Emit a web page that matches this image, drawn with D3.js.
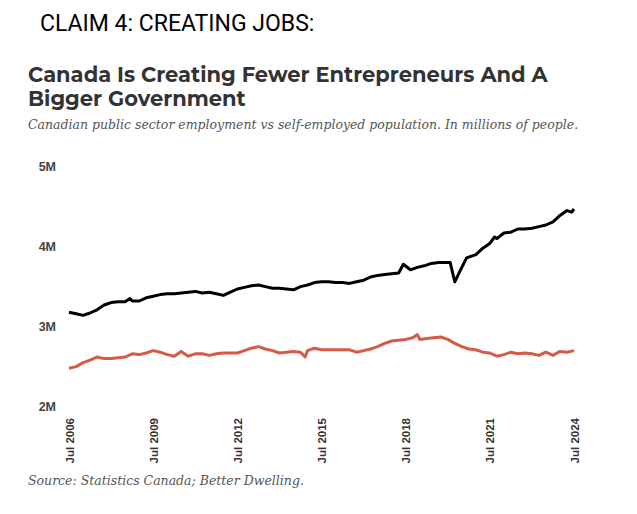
<!DOCTYPE html>
<html>
<head>
<meta charset="utf-8">
<script src="https://cdn.jsdelivr.net/npm/d3@7"></script>
<style>
  body { margin: 0; background: #fff; }
  svg { display: block; }
  .tick text { font-family: "Liberation Sans", Arial, sans-serif; font-weight: bold; }
</style>
</head>
<body>
<svg id="chart"></svg>
<script>
// Quarterly readings (plus a few extra months where the lines spike)
const publicDates = [
  "2006-07","2006-10","2007-01","2007-04","2007-07","2007-10","2008-01","2008-04","2008-07","2008-09",
  "2008-10","2009-01","2009-04","2009-07","2009-10","2010-01","2010-04","2010-07","2010-10","2011-01",
  "2011-04","2011-07","2011-10","2012-01","2012-04","2012-07","2012-10","2013-01","2013-04","2013-07",
  "2013-10","2014-01","2014-04","2014-07","2014-10","2015-01","2015-04","2015-07","2015-10","2016-01",
  "2016-04","2016-07","2016-10","2017-01","2017-04","2017-07","2017-10","2018-01","2018-04","2018-06",
  "2018-09","2018-12","2019-03","2019-06","2019-09","2019-12","2020-02","2020-04","2020-06","2020-09",
  "2021-01","2021-04","2021-07","2021-09","2021-10","2022-01","2022-04","2022-07","2022-10","2023-01",
  "2023-04","2023-07","2023-10","2024-01","2024-04","2024-06","2024-07"
];
const publicValues = [
  3.16,3.14,3.12,3.15,3.19,3.25,3.28,3.29,3.29,3.33,
  3.30,3.30,3.34,3.36,3.38,3.39,3.39,3.40,3.41,3.42,
  3.40,3.41,3.39,3.37,3.41,3.45,3.47,3.49,3.50,3.48,
  3.46,3.46,3.45,3.44,3.48,3.50,3.53,3.54,3.54,3.53,
  3.53,3.52,3.54,3.56,3.60,3.62,3.63,3.64,3.65,3.76,
  3.69,3.72,3.74,3.77,3.78,3.78,3.78,3.54,3.66,3.84,
  3.88,3.96,4.02,4.10,4.08,4.15,4.16,4.20,4.20,4.21,
  4.23,4.25,4.29,4.37,4.43,4.41,4.45
];

const selfDates = [
  "2006-07","2006-10","2007-01","2007-04","2007-07","2007-10","2008-01","2008-04","2008-07","2008-10",
  "2009-01","2009-04","2009-07","2009-10","2010-01","2010-04","2010-07","2010-10","2011-01","2011-04",
  "2011-07","2011-10","2012-01","2012-04","2012-07","2012-10","2013-01","2013-04","2013-07","2013-10",
  "2014-01","2014-04","2014-07","2014-10","2014-12","2015-01","2015-04","2015-07","2015-10","2016-01",
  "2016-04","2016-07","2016-10","2017-01","2017-04","2017-07","2017-10","2018-01","2018-04","2018-07",
  "2018-10","2018-12","2019-01","2019-04","2019-07","2019-10","2020-01","2020-04","2020-07","2020-10",
  "2021-01","2021-04","2021-07","2021-10","2022-01","2022-04","2022-07","2022-10","2023-01","2023-04",
  "2023-07","2023-10","2024-01","2024-04","2024-07"
];
const selfValues = [
  2.46,2.48,2.53,2.56,2.60,2.58,2.58,2.59,2.60,2.64,
  2.63,2.65,2.68,2.66,2.63,2.61,2.67,2.61,2.64,2.64,
  2.62,2.64,2.65,2.65,2.65,2.68,2.71,2.73,2.70,2.68,
  2.65,2.66,2.67,2.66,2.60,2.68,2.71,2.69,2.69,2.69,
  2.69,2.69,2.66,2.68,2.70,2.73,2.77,2.80,2.81,2.82,
  2.84,2.88,2.82,2.83,2.84,2.85,2.82,2.77,2.73,2.70,
  2.69,2.66,2.65,2.61,2.63,2.66,2.64,2.65,2.64,2.62,
  2.66,2.62,2.67,2.66,2.68
];

const yTicks = [2, 3, 4, 5];
const xTickDates = ["2006-07","2009-07","2012-07","2015-07","2018-07","2021-07","2024-07"];

const W = 637, H = 514;
const parse = d3.timeParse("%Y-%m");
const svg = d3.select("#chart").attr("width", W).attr("height", H);

const x = d3.scaleTime()
  .domain([parse("2006-07"), parse("2024-07")])
  .range([69, 574]);
const y = d3.scaleLinear().domain([2, 5]).range([405, 165]);

// header texts
svg.append("text")
  .attr("x", 40).attr("y", 31)
  .style("font-family", "Roboto, 'Liberation Sans', sans-serif")
  .style("font-size", "23px")
  .attr("fill", "#000")
  .text("CLAIM 4: CREATING JOBS:");

const title = svg.append("text")
  .style("font-family", "Montserrat, 'Open Sans', sans-serif")
  .style("font-weight", "bold")
  .style("font-size", "21px")
  .attr("fill", "#333");
title.append("tspan").attr("x", 28).attr("y", 82).text("Canada Is Creating Fewer Entrepreneurs And A");
title.append("tspan").attr("x", 28).attr("y", 106).text("Bigger Government");

svg.append("text")
  .attr("x", 28).attr("y", 129)
  .style("font-family", "'DejaVu Serif', serif")
  .style("font-style", "italic")
  .style("font-size", "12.5px")
  .attr("fill", "#555")
  .text("Canadian public sector employment vs self-employed population. In millions of people.");

svg.append("text")
  .attr("x", 28).attr("y", 485)
  .style("font-family", "'DejaVu Serif', serif")
  .style("font-style", "italic")
  .style("font-size", "12.5px")
  .attr("fill", "#555")
  .text("Source: Statistics Canada; Better Dwelling.");

// axes
const yAxis = d3.axisLeft(y)
  .tickValues(yTicks)
  .tickSize(0)
  .tickPadding(0)
  .tickFormat(d => d + "M");

svg.append("g")
  .attr("transform", "translate(56,1)")
  .call(yAxis)
  .call(g => g.select(".domain").remove())
  .selectAll("text")
  .attr("fill", "#444")
  .style("font-size", "12.5px");

const xAxis = d3.axisBottom(x)
  .tickValues(xTickDates.map(parse))
  .tickSize(0)
  .tickFormat(d3.timeFormat("Jul %Y"));

svg.append("g")
  .attr("transform", "translate(0,418)")
  .call(xAxis)
  .call(g => g.select(".domain").remove())
  .selectAll("text")
  .attr("fill", "#333")
  .style("font-size", "11.5px")
  .attr("text-anchor", "end")
  .attr("transform", "rotate(-90)")
  .attr("x", 0)
  .attr("y", 0)
  .attr("dx", 0)
  .attr("dy", "0.35em");

// lines
const line = d3.line()
  .x(d => x(parse(d[0])))
  .y(d => y(d[1]));

svg.append("path")
  .datum(selfDates.map((d, i) => [d, selfValues[i]]))
  .attr("fill", "none")
  .attr("stroke", "#d65a45")
  .attr("stroke-width", 3)
  .attr("stroke-linejoin", "round")
  .attr("d", line);

svg.append("path")
  .datum(publicDates.map((d, i) => [d, publicValues[i]]))
  .attr("fill", "none")
  .attr("stroke", "#000")
  .attr("stroke-width", 3)
  .attr("stroke-linejoin", "round")
  .attr("d", line);
</script>
</body>
</html>
